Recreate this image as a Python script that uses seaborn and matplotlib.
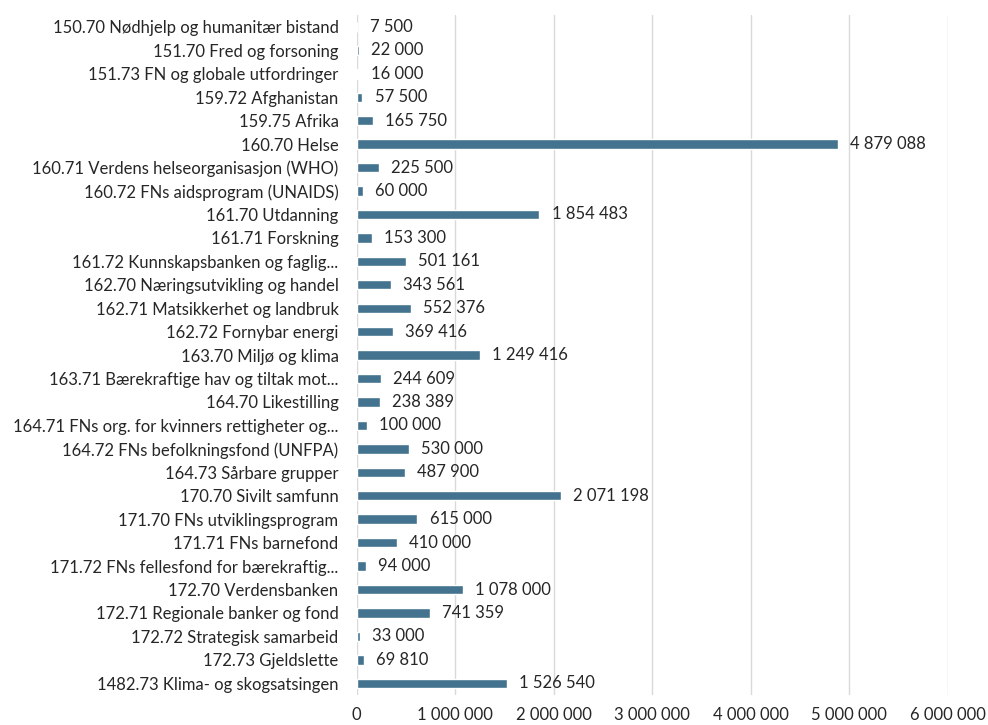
import pandas as pd
import matplotlib.pyplot as plt
import seaborn as sns

categories = [
    "150.70 Nødhjelp og humanitær bistand",
    "151.70 Fred og forsoning",
    "151.73 FN og globale utfordringer",
    "159.72 Afghanistan",
    "159.75 Afrika",
    "160.70 Helse",
    "160.71 Verdens helseorganisasjon (WHO)",
    "160.72 FNs aidsprogram (UNAIDS)",
    "161.70 Utdanning",
    "161.71 Forskning",
    "161.72 Kunnskapsbanken og faglig...",
    "162.70 Næringsutvikling og handel",
    "162.71 Matsikkerhet og landbruk",
    "162.72 Fornybar energi",
    "163.70 Miljø og klima",
    "163.71 Bærekraftige hav og tiltak mot...",
    "164.70 Likestilling",
    "164.71 FNs org. for kvinners rettigheter og...",
    "164.72 FNs befolkningsfond (UNFPA)",
    "164.73 Sårbare grupper",
    "170.70 Sivilt samfunn",
    "171.70 FNs utviklingsprogram",
    "171.71 FNs barnefond",
    "171.72 FNs fellesfond for bærekraftig...",
    "172.70 Verdensbanken",
    "172.71 Regionale banker og fond",
    "172.72 Strategisk samarbeid",
    "172.73 Gjeldslette",
    "1482.73 Klima- og skogsatsingen",
]
values = [7500, 22000, 16000, 57500, 165750, 4879088, 225500, 60000, 1854483,
          153300, 501161, 343561, 552376, 369416, 1249416, 244609, 238389,
          100000, 530000, 487900, 2071198, 615000, 410000, 94000, 1078000,
          741359, 33000, 69810, 1526540]
ticks = [0, 1000000, 2000000, 3000000, 4000000, 5000000, 6000000]


def fmt(v):
    return f"{v:,}".replace(",", " ")


def main():
    df = pd.DataFrame({"post": categories, "belop": values})
    sns.set_style("white")
    plt.rcParams['font.family'] = ['Lato', 'DejaVu Sans']

    fig = plt.figure(figsize=(9.88, 7.25), dpi=100)
    ax = fig.add_axes([0.361, 0.0414, 0.5985, 0.9376])
    sns.barplot(data=df, x="belop", y="post", color="#44738F", width=0.4,
                saturation=1, ax=ax, zorder=3)

    for i, v in enumerate(values):
        ax.text(v + 125000, i, fmt(v), va="center", ha="left", fontsize=12,
                color="#262626")

    ax.set_xlim(0, 6000000)
    ax.set_ylim(28.5, -0.5)
    ax.set_xticks(ticks)
    ax.set_xticklabels([fmt(t) for t in ticks], fontsize=12, color="#262626")
    ax.tick_params(axis="y", labelsize=12, colors="#262626", length=0, pad=13)
    ax.tick_params(axis="x", length=0, pad=9)
    ax.set_xlabel("")
    ax.set_ylabel("")
    ax.grid(axis="x", color="#D9D9D9", linewidth=1, zorder=0)
    ax.set_axisbelow(True)
    for s in ax.spines.values():
        s.set_visible(False)

    plt.savefig("out.png", dpi=100)


if __name__ == "__main__":
    main()
